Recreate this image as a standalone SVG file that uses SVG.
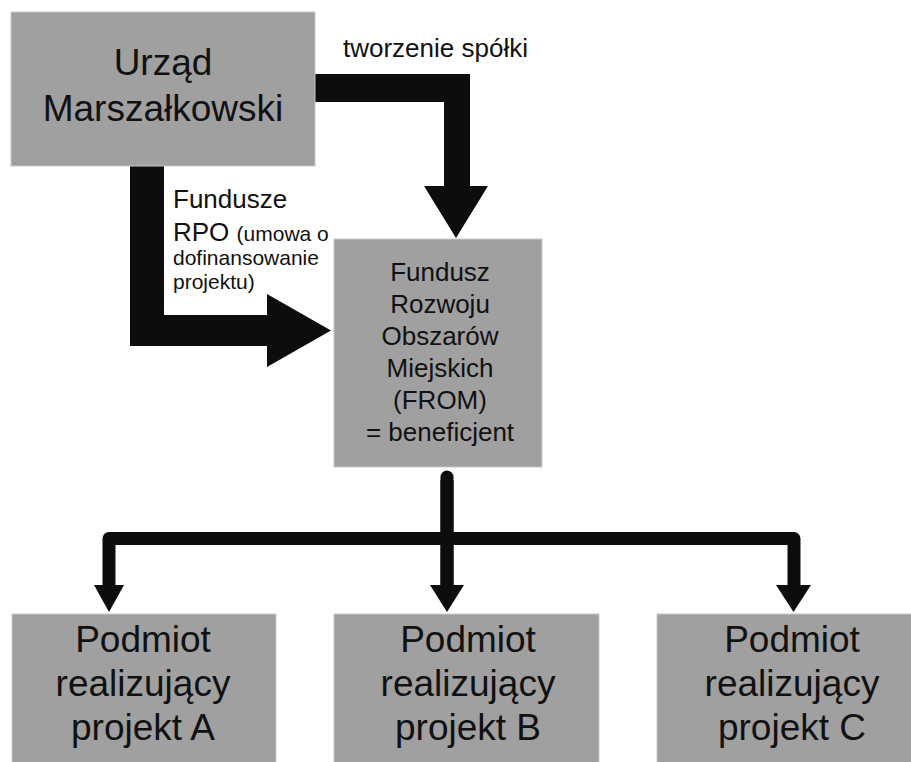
<svg xmlns="http://www.w3.org/2000/svg" width="911" height="762" viewBox="0 0 911 762">
<style>
.box{fill:#a0a0a0;stroke:#c8c8c8;stroke-width:1}
.t{font-family:"Liberation Sans",Arial,sans-serif;fill:#111;text-anchor:middle}
.l{font-family:"Liberation Sans",Arial,sans-serif;fill:#111}
.blk{fill:#0d0d0d}
.ln{fill:none;stroke:#0d0d0d;stroke-width:13}
</style>
<rect width="911" height="762" fill="#fff"/>
<g id="connectors">
  <!-- Urzad -> FROM (tworzenie spolki) -->
  <path class="blk" d="M315,74 H470 V186 H488 L456,238 L424,186 H444 V102 H315 Z"/>
  <!-- Urzad -> FROM (Fundusze RPO) -->
  <path class="blk" d="M130,166 H164 V315 H267 V294 L331,330.5 L267,367 V346 H130 Z"/>
  <!-- FROM -> projects -->
  <path class="ln" d="M447,477 V586" stroke-linecap="round"/>
  <path class="ln" d="M447,480 V586"/>
  <path class="ln" d="M109,586 V538.5 H794 V586" stroke-linejoin="round"/>
  <polygon class="blk" points="94,585 124,585 109,612"/>
  <polygon class="blk" points="430,585 464,585 447,612"/>
  <polygon class="blk" points="776,585 811,585 793.5,612"/>
  <text class="l" x="343" y="57" font-size="26">tworzenie spółki</text>
  <text class="l" x="173" y="208" font-size="26">Fundusze</text>
  <text class="l" x="173" y="241" font-size="26">RPO <tspan font-size="21">(umowa o</tspan></text>
  <text class="l" x="173" y="265" font-size="21">dofinansowanie</text>
  <text class="l" x="173" y="289" font-size="21">projektu)</text>
</g>
<g id="urzad">
  <rect class="box" x="11" y="12" width="304" height="154"/>
  <text class="t" x="163" y="75" font-size="37">Urząd</text>
  <text class="t" x="163" y="121" font-size="37">Marszałkowski</text>
</g>
<g id="from">
  <rect class="box" x="334" y="239" width="208" height="228"/>
  <text class="t" x="440" y="281" font-size="26">Fundusz</text>
  <text class="t" x="440" y="313" font-size="26">Rozwoju</text>
  <text class="t" x="440" y="345" font-size="26">Obszarów</text>
  <text class="t" x="440" y="377" font-size="26">Miejskich</text>
  <text class="t" x="440" y="409" font-size="26">(FROM)</text>
  <text class="t" x="440" y="441" font-size="26">= beneficjent</text>
</g>
<g id="projA">
  <rect class="box" x="12" y="614" width="264" height="160"/>
  <text class="t" x="143" y="652" font-size="37">Podmiot</text>
  <text class="t" x="143" y="696" font-size="37">realizujący</text>
  <text class="t" x="143" y="740" font-size="37">projekt A</text>
</g>
<g id="projB">
  <rect class="box" x="334" y="614" width="265" height="160"/>
  <text class="t" x="468" y="652" font-size="37">Podmiot</text>
  <text class="t" x="468" y="696" font-size="37">realizujący</text>
  <text class="t" x="468" y="740" font-size="37">projekt B</text>
</g>
<g id="projC">
  <rect class="box" x="657" y="614" width="270" height="160"/>
  <text class="t" x="792" y="652" font-size="37">Podmiot</text>
  <text class="t" x="792" y="696" font-size="37">realizujący</text>
  <text class="t" x="792" y="740" font-size="37">projekt C</text>
</g>
</svg>
